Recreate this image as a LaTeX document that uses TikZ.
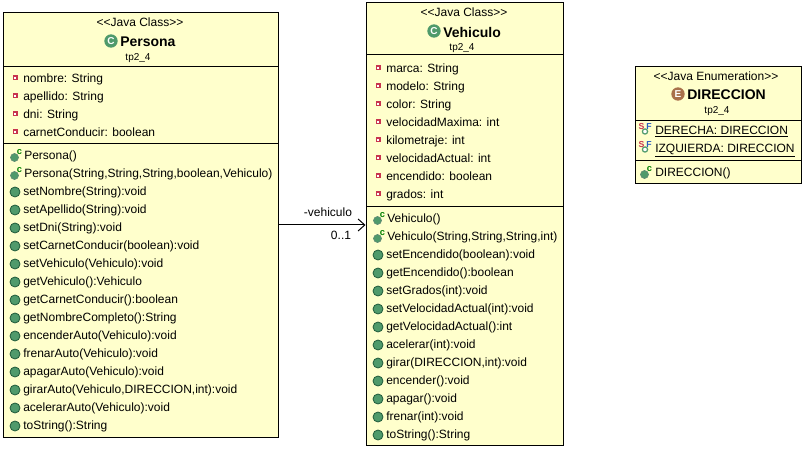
\documentclass[tikz,border=0pt]{standalone}
\usepackage{fontspec}
\setmainfont{Liberation Sans}
\usetikzlibrary{arrows.meta}
\definecolor{umlfill}{HTML}{FFFFCC}
\definecolor{icongreen}{HTML}{4F9A6B}
\definecolor{icondark}{HTML}{1F5A3A}
\definecolor{enumbrown}{HTML}{A9714B}
\definecolor{attrred}{HTML}{C8344F}
\definecolor{finalblue}{HTML}{2A5CC0}
\begin{document}
\begin{tikzpicture}[
    x=0.75pt, y=-0.75pt,
    every node/.style={font=\fontsize{9}{11}\selectfont},
    classbox/.style={rectangle, draw=black, fill=umlfill, line width=0.75pt, inner sep=0pt},
    stereotype/.style={inner sep=0pt},
    classname/.style={inner sep=0pt, yshift=-0.75pt, font=\fontsize{10.5}{12}\selectfont\bfseries},
    package/.style={inner sep=0pt, yshift=-0.75pt, font=\fontsize{7.5}{9}\selectfont},
    member/.style={anchor=west, inner sep=0pt, yshift=-0.75pt, text height=7pt, text depth=2pt},
    kindicon/.style={circle, inner sep=0pt, minimum size=10pt, text=white, font=\fontsize{7.5}{8}\selectfont\bfseries},
    divider/.style={line width=0.75pt},
    assoc/.style={-{Straight Barb[length=5pt,width=9pt]}, line width=0.75pt},
    attricon/.pic={
        \fill[attrred] (-2.5,-2.5) rectangle (2.5,2.5);
        \fill[white] (-1.2,-1.2) rectangle (1.2,1.2);
    },
    methicon/.pic={
        \draw[icondark, fill=icongreen, line width=0.6pt] (0,1) circle (5);
    },
    ctoricon/.pic={
        \draw[icondark!70, fill=icongreen, line width=0.5pt] (-0.5,2.5) circle (4);
        \node[inner sep=0pt, text=green!50!black, font=\fontsize{7}{7}\selectfont\bfseries] at (4.5,-3) {c};
    },
    staticicon/.pic={
        \draw[icongreen, fill=white, line width=0.9pt] (0,1.5) circle (2.6);
        \node[inner sep=0pt, text=attrred, font=\fontsize{6.5}{7}\selectfont\bfseries] at (-3.5,-3.5) {S};
        \node[inner sep=0pt, text=finalblue, font=\fontsize{6.5}{7}\selectfont\bfseries] at (4,-3.5) {F};
    }
]
\useasboundingbox (0,0) rectangle (804,449);

% -------------------------
% Class boxes
% -------------------------
    \node[classbox, minimum width=206.25pt, minimum height=318pt] (persona) at (140.5, 225) {};
    \node[classbox, minimum width=147.75pt, minimum height=331.5pt] (vehiculo) at (464.5, 224) {};
    \node[classbox, minimum width=124.5pt, minimum height=87.75pt] (direccion) at (718, 125.5) {};

% -------------------------
% Persona
% -------------------------
    \node[stereotype] (personaStereo) at (140, 22) {{<}{<}Java Class{>}{>}};
    \node[classname, anchor=west] (personaName) at (120, 41) {Persona};
    \node[kindicon, fill=icongreen] (personaIcon) at (111, 41) {C};
    \node[package] (personaPkg) at (138, 57) {tp2\_4};
    \draw[divider] (3, 67) -- (278, 67);
    \draw[divider] (3, 144) -- (278, 144);

    \foreach \txt [count=\i] in {nombre: String, apellido: String, dni: String, carnetConducir: boolean} {
        \pic at (15, 60+18*\i) {attricon};
        \node[member] (personaAttr\i) at (23, 60+18*\i) {\txt};
    }
    \foreach \txt [count=\i] in {Persona(), {Persona(String,String,String,boolean,Vehiculo)}} {
        \pic at (15, 137+18*\i) {ctoricon};
        \node[member] (personaCtor\i) at (24, 137+18*\i) {\txt};
    }
    \foreach \txt [count=\i] in {setNombre(String):void, setApellido(String):void, setDni(String):void,
        setCarnetConducir(boolean):void, setVehiculo(Vehiculo):void, getVehiculo():Vehiculo,
        getCarnetConducir():boolean, getNombreCompleto():String, encenderAuto(Vehiculo):void,
        frenarAuto(Vehiculo):void, apagarAuto(Vehiculo):void, {girarAuto(Vehiculo,DIRECCION,int):void},
        acelerarAuto(Vehiculo):void, toString():String} {
        \pic at (15, 173+18*\i) {methicon};
        \node[member] (personaMeth\i) at (23, 173+18*\i) {\txt};
    }

% -------------------------
% Vehiculo
% -------------------------
    \node[stereotype] (vehiculoStereo) at (464, 12) {{<}{<}Java Class{>}{>}};
    \node[classname, anchor=west] (vehiculoName) at (443, 31) {Vehiculo};
    \node[kindicon, fill=icongreen] (vehiculoIcon) at (434, 31) {C};
    \node[package] (vehiculoPkg) at (462, 47) {tp2\_4};
    \draw[divider] (366, 55) -- (563, 55);
    \draw[divider] (366, 207) -- (563, 207);

    \foreach \txt [count=\i] in {marca: String, modelo: String, color: String, velocidadMaxima: int,
        kilometraje: int, velocidadActual: int, encendido: boolean, grados: int} {
        \pic at (378, 50+18*\i) {attricon};
        \node[member] (vehiculoAttr\i) at (386, 50+18*\i) {\txt};
    }
    \foreach \txt [count=\i] in {Vehiculo(), {Vehiculo(String,String,String,int)}} {
        \pic at (378, 200+18*\i) {ctoricon};
        \node[member] (vehiculoCtor\i) at (387, 200+18*\i) {\txt};
    }
    \foreach \txt [count=\i] in {setEncendido(boolean):void, getEncendido():boolean, setGrados(int):void,
        setVelocidadActual(int):void, getVelocidadActual():int, acelerar(int):void,
        {girar(DIRECCION,int):void}, encender():void, apagar():void, frenar(int):void, toString():String} {
        \pic at (378, 236+18*\i) {methicon};
        \node[member] (vehiculoMeth\i) at (386, 236+18*\i) {\txt};
    }

% -------------------------
% DIRECCION
% -------------------------
    \node[stereotype] (direccionStereo) at (716, 76) {{<}{<}Java Enumeration{>}{>}};
    \node[classname, anchor=west] (direccionName) at (687, 94) {DIRECCION};
    \node[kindicon, fill=enumbrown] (direccionIcon) at (678, 94) {E};
    \node[package] (direccionPkg) at (717, 110) {tp2\_4};
    \draw[divider] (635, 121) -- (801, 121);
    \draw[divider] (635, 161) -- (801, 161);

    \foreach \txt [count=\i] in {DERECHA: DIRECCION, IZQUIERDA: DIRECCION} {
        \pic at (645, 112+18*\i) {staticicon};
        \node[member] (direccionConst\i) at (655, 112+18*\i) {\underline{\txt}};
    }
    \pic at (645, 172) {ctoricon};
    \node[member] (direccionCtor) at (655, 172) {DIRECCION()};

% -------------------------
% Association
% -------------------------
    \draw[assoc] (persona.east) -- (vehiculo.west |- persona.east);
    \node[inner sep=0pt] (assocRole) at (328, 212) {-vehiculo};
    \node[inner sep=0pt] (assocMult) at (341, 235) {0..1};
\end{tikzpicture}
\end{document}
